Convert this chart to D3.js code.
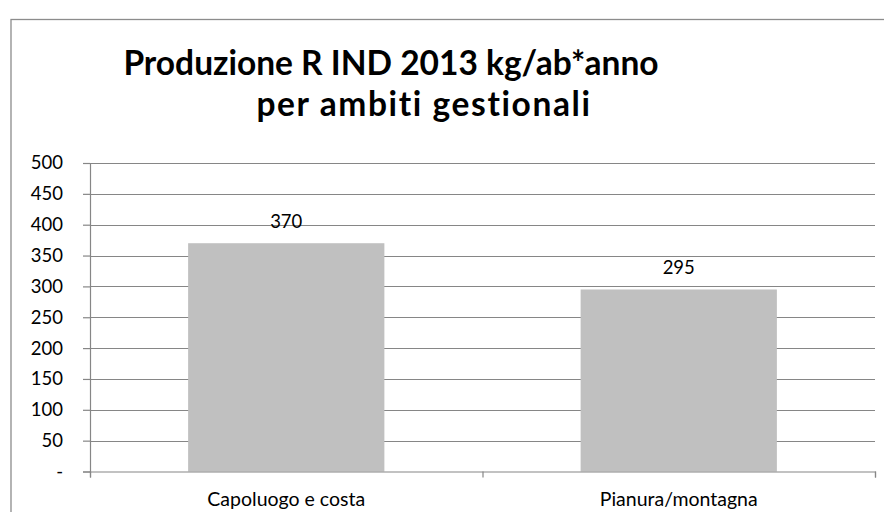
<!DOCTYPE html>
<html>
<head>
<meta charset="utf-8">
<script src="https://cdn.jsdelivr.net/npm/d3@7"></script>
<style>
  body { margin: 0; background: #fff; }
  text { font-family: Lato, "Open Sans", sans-serif; fill: #000; font-variant-ligatures: none; }
</style>
</head>
<body>
<svg></svg>
<script>
const categories = ["Capoluogo e costa", "Pianura/montagna"];
const values = [370, 295];
const yTicks = [0, 50, 100, 150, 200, 250, 300, 350, 400, 450, 500];
const titleLines = ["Produzione R IND 2013 kg/ab*anno", "per ambiti gestionali"];

const width = 884;
const height = 512;
const plot = { left: 90, right: 875, top: 163, bottom: 471.5 };

const svg = d3.select("svg").attr("width", width).attr("height", height);

// chart frame (runs past the right and bottom edges)
svg
  .append("rect")
  .attr("x", 11)
  .attr("y", 19.5)
  .attr("width", 900)
  .attr("height", 520)
  .attr("fill", "#fff")
  .attr("stroke", "#8c8c8c")
  .attr("stroke-width", 1.3);

const xScale = d3
  .scaleBand()
  .domain(categories)
  .range([plot.left, plot.right])
  .paddingInner(0.5)
  .paddingOuter(0.25);

const yScale = d3
  .scaleLinear()
  .domain([0, 500])
  .range([plot.bottom, plot.top]);

// gridlines
svg
  .append("g")
  .selectAll("line")
  .data(yTicks.filter((d) => d > 0))
  .enter()
  .append("line")
  .attr("x1", plot.left)
  .attr("x2", plot.right)
  .attr("y1", (d) => Math.round(yScale(d)) + 0.5)
  .attr("y2", (d) => Math.round(yScale(d)) + 0.5)
  .attr("stroke", "#868686")
  .attr("stroke-width", 1.2);

// bars
svg
  .selectAll("rect.bar")
  .data(values)
  .enter()
  .append("rect")
  .attr("class", "bar")
  .attr("x", (d, i) => xScale(categories[i]))
  .attr("width", xScale.bandwidth())
  .attr("y", (d) => yScale(d))
  .attr("height", (d) => plot.bottom - yScale(d))
  .attr("fill", "#c0c0c0");

// value labels
svg
  .selectAll("text.value")
  .data(values)
  .enter()
  .append("text")
  .attr("class", "value")
  .attr("x", (d, i) => xScale(categories[i]) + xScale.bandwidth() / 2)
  .attr("y", (d) => yScale(d) - 15)
  .attr("text-anchor", "middle")
  .attr("font-size", 18.5)
  .text((d) => d);

// y axis
const yAxis = d3
  .axisLeft(yScale)
  .tickValues(yTicks)
  .tickSize(7)
  .tickPadding(20)
  .tickFormat((d) => (d === 0 ? "-" : d));

const yG = svg
  .append("g")
  .attr("transform", `translate(${plot.left}, 0)`)
  .call(yAxis);
yG.selectAll("line, path").attr("stroke", "#868686").attr("stroke-width", 1.2);
yG.selectAll("text")
  .attr("font-size", 18.5)
  .attr("font-family", "Lato, sans-serif")
  .attr("fill", "#000");

// x axis
const xAxis = d3
  .axisBottom(d3.scaleLinear().domain([0, 2]).range([plot.left, plot.right]))
  .tickValues([0, 1, 2])
  .tickSize(6)
  .tickFormat("");

const xG = svg
  .append("g")
  .attr("transform", `translate(0, ${plot.bottom})`)
  .call(xAxis);
xG.selectAll("line, path").attr("stroke", "#868686").attr("stroke-width", 1.2);

svg
  .selectAll("text.cat")
  .data(categories)
  .enter()
  .append("text")
  .attr("class", "cat")
  .attr("x", (d) => xScale(d) + xScale.bandwidth() / 2)
  .attr("y", 506)
  .attr("text-anchor", "middle")
  .attr("font-size", 19.5)
  .text((d) => d);

// title
const titleX = [391, 424];
const titleY = [75, 116];
const titleSpacing = [0, 1.6];
svg
  .selectAll("text.title")
  .data(titleLines)
  .enter()
  .append("text")
  .attr("class", "title")
  .attr("x", (d, i) => titleX[i])
  .attr("y", (d, i) => titleY[i])
  .attr("text-anchor", "middle")
  .attr("font-size", 33.5)
  .attr("font-weight", "bold")
  .attr("letter-spacing", (d, i) => titleSpacing[i])
  .text((d) => d);
</script>
</body>
</html>
